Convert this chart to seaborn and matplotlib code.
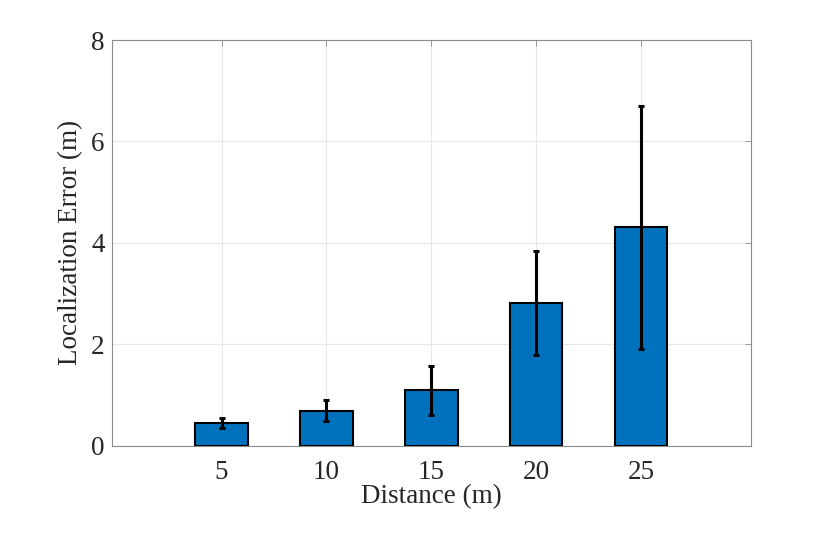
import numpy as np
import pandas as pd
import matplotlib
matplotlib.use('Agg')
import matplotlib.pyplot as plt
import seaborn as sns

# values
distance = [5, 10, 15, 20, 25]
mean_err = [0.44, 0.69, 1.09, 2.82, 4.31]
lower_err = [0.34, 0.49, 0.61, 1.79, 1.91]
upper_err = [0.55, 0.90, 1.58, 3.83, 6.69]
y_ticks = [0, 2, 4, 6, 8]

sns.set_theme(style="white")
plt.rcParams['font.family'] = ['Liberation Serif', 'DejaVu Serif']
plt.rcParams['mathtext.fontset'] = 'stix'

df = pd.DataFrame({'Distance': distance, 'Error': mean_err})

fig = plt.figure(figsize=(8.3, 5.34), dpi=100)
ax = fig.add_axes([0.1346, 0.1654, 0.7702, 0.7596])

sns.barplot(data=df, x='Distance', y='Error', native_scale=True, width=0.5,
            color='#0072BD', saturation=1, edgecolor='black', linewidth=1.5,
            errorbar=None, ax=ax, zorder=3)

mean = np.array(mean_err)
yerr = np.vstack([mean - np.array(lower_err), np.array(upper_err) - mean])
ax.errorbar(distance, mean, yerr=yerr, fmt='none', ecolor='black',
            elinewidth=2.2, capsize=2.5, capthick=2.2, zorder=4)

ax.set_xlim(-0.24, 30.24)
ax.set_ylim(0, 8)
ax.set_xticks(distance)
ax.set_yticks(y_ticks)
ax.grid(True, color='#e6e6e6', linewidth=0.8, zorder=0)
ax.set_axisbelow(True)

for spine in ax.spines.values():
    spine.set_visible(True)
    spine.set_color('#8c8c8c')
    spine.set_linewidth(0.8)

ax.tick_params(axis='both', which='both', direction='in', length=4, width=0.6,
               color='#8c8c8c', top=True, right=True, labelsize=19.5,
               labelcolor='#262626')
ax.tick_params(axis='y', pad=5)
ax.tick_params(axis='x', pad=10)

ax.set_xlabel('Distance (m)', fontsize=19.5, color='#262626', labelpad=0)
ax.set_ylabel('Localization Error (m)', fontsize=19.5, color='#262626', labelpad=6)

fig.savefig('out.png', dpi=100)
